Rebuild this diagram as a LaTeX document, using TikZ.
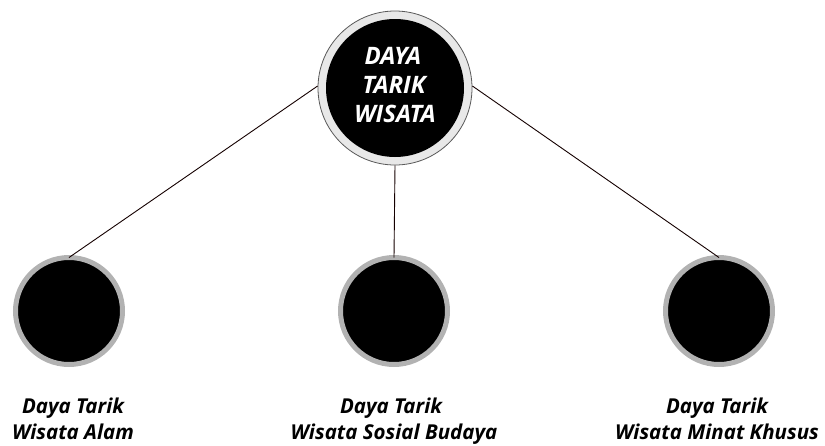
\documentclass[tikz,border=0pt]{standalone}
\usepackage{fontspec}
\setmainfont{Open Sans}
\begin{document}
\begin{tikzpicture}[x=1pt,y=-1pt,
  conn/.style={draw=black!80!red!40!black, line width=0.9pt},
  toptext/.style={anchor=base, text=white, font=\fontsize{24}{28}\selectfont\bfseries\itshape, inner sep=0pt},
  labeltext/.style={anchor=base, text=black, font=\fontsize{20.5}{24}\selectfont\bfseries\itshape, inner sep=0pt},
  smallcirc/.style={circle, fill=black, draw=black!30, line width=5pt, minimum size=107pt, inner sep=0pt}]
\useasboundingbox (0,0) rectangle (825,445);
% top node
\node[circle, fill=black!9, draw=black!65, line width=0.8pt, minimum size=154pt, inner sep=0pt] (top) at (395,88) {};
\node[circle, fill=black, minimum size=138pt, inner sep=0pt] (topin) at (395,88) {};
\node[toptext] (t1) at (393,64) {DAYA};
\node[toptext] (t2) at (394,93) {TARIK};
\node[toptext] (t3) at (395,122) {WISATA};
% bottom nodes
\node[smallcirc] (a) at (69,311) {};
\node[smallcirc] (b) at (394,311) {};
\node[smallcirc] (c) at (719,311) {};
% connectors
\draw[conn] (top.west) ++(0,-2) coordinate (tw) -- ([yshift=-2.5pt]a.north);
\draw[conn] (top.south) -- ([yshift=-2.5pt]b.north);
\draw[conn] (top.east) ++(0,-2) coordinate (te) -- ([yshift=-2.5pt]c.north);
% labels
\node[labeltext] (la1) at (73,413) {Daya Tarik};
\node[labeltext] (la2) at (73,439) {Wisata Alam};
\node[labeltext] (lb1) at (391,413) {Daya Tarik};
\node[labeltext] (lb2) at (394,439) {Wisata Sosial Budaya};
\node[labeltext] (lc1) at (717,413) {Daya Tarik};
\node[labeltext] (lc2) at (717,439) {Wisata Minat Khusus};
\end{tikzpicture}
\end{document}
